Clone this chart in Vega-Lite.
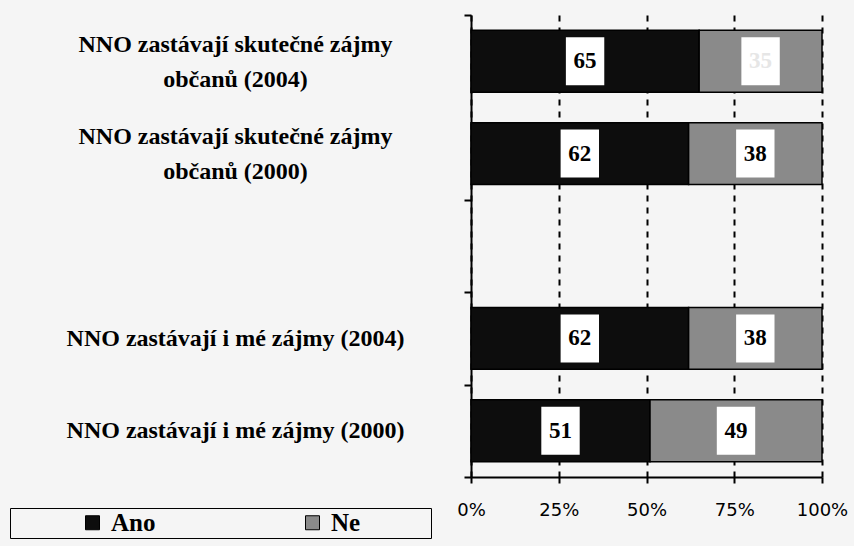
{
  "$schema": "https://vega.github.io/schema/vega-lite/v6.json",
  "width": 351,
  "height": 462,
  "autosize": {"type": "none"},
  "padding": {"left": 471, "top": 15, "right": 32, "bottom": 69},
  "background": "#f5f5f5",
  "config": {"view": {"stroke": null}},
  "data": {
    "values": [
      {"category": "NNO zastávají skutečné zájmy občanů (2004)", "answer": "Ano", "value": 65},
      {"category": "NNO zastávají skutečné zájmy občanů (2004)", "answer": "Ne", "value": 35},
      {"category": "NNO zastávají skutečné zájmy občanů (2000)", "answer": "Ano", "value": 62},
      {"category": "NNO zastávají skutečné zájmy občanů (2000)", "answer": "Ne", "value": 38},
      {"category": "NNO zastávají i mé zájmy (2004)", "answer": "Ano", "value": 62},
      {"category": "NNO zastávají i mé zájmy (2004)", "answer": "Ne", "value": 38},
      {"category": "NNO zastávají i mé zájmy (2000)", "answer": "Ano", "value": 51},
      {"category": "NNO zastávají i mé zájmy (2000)", "answer": "Ne", "value": 49}
    ]
  },
  "transform": [
    {"stack": "value", "groupby": ["category"], "sort": [{"field": "answer", "order": "ascending"}], "as": ["x0", "x1"], "offset": "normalize"},
    {"calculate": "(datum.x0 + datum.x1) / 2", "as": "xmid"}
  ],
  "encoding": {
    "y": {
      "field": "category",
      "type": "nominal",
      "title": null,
      "scale": {
        "domain": [
          "NNO zastávají skutečné zájmy občanů (2004)",
          "NNO zastávají skutečné zájmy občanů (2000)",
          " ",
          "NNO zastávají i mé zájmy (2004)",
          "NNO zastávají i mé zájmy (2000)"
        ],
        "paddingInner": 0,
        "paddingOuter": 0
      },
      "axis": {
        "title": null,
        "domainColor": "black",
        "domainWidth": 2,
        "tickColor": "black",
        "tickWidth": 2,
        "tickSize": 7,
        "tickBand": "extent",
        "tickOpacity": {"condition": {"test": "datum.value == 'NNO zastávají skutečné zájmy občanů (2004)'", "value": 0}, "value": 1},
        "labelFont": "Liberation Serif",
        "labelFontWeight": "bold",
        "labelFontSize": 24,
        "labelColor": "black",
        "labelAlign": "center",
        "labelBaseline": "middle",
        "labelPadding": 229,
        "labelLineHeight": 35,
        "labelLimit": 600,
        "labelOffset": {"condition": {"test": "test(/občanů/, datum.value)", "value": -17}, "value": 0},
        "labelExpr": "test(/občanů/, datum.value) ? [slice(datum.value, 0, 28), slice(datum.value, 29)] : datum.value"
      }
    }
  },
  "layer": [
    {
      "mark": {"type": "bar", "height": {"band": 0.67}, "stroke": "black", "strokeWidth": 1.5},
      "encoding": {
        "x": {
          "field": "x0",
          "type": "quantitative",
          "scale": {"domain": [0, 1]},
          "axis": {
            "title": null,
            "values": [0, 0.25, 0.5, 0.75, 1],
            "format": "%",
            "grid": true,
            "gridColor": "black",
            "gridDash": [6, 6],
            "gridWidth": 2,
            "domainColor": "black",
            "domainWidth": 2,
            "tickColor": "black",
            "tickWidth": 2,
            "tickSize": 6,
            "labelFont": "DejaVu Sans",
            "labelFontSize": 18,
            "labelColor": "black",
            "labelPadding": 18,
            "labelFlush": false
          }
        },
        "x2": {"field": "x1"},
        "fill": {
          "field": "answer",
          "type": "nominal",
          "scale": {"domain": ["Ano", "Ne"], "range": ["#0d0d0d", "#8a8a8a"]},
          "legend": {
            "title": null,
            "orient": "none",
            "legendX": -461,
            "legendY": 493,
            "direction": "horizontal",
            "columns": 2,
            "strokeColor": "black",
            "padding": 2,
            "symbolType": "square",
            "symbolSize": 196,
            "symbolStrokeColor": "black",
            "symbolStrokeWidth": 1,
            "symbolOffset": 68,
            "columnPadding": 76,
            "labelFont": "Liberation Serif",
            "labelFontWeight": "bold",
            "labelFontSize": 25,
            "labelColor": "black",
            "labelOffset": 6,
            "labelLimit": 400,
            "labelExpr": "datum.label == 'Ne' ? 'Ne\u00a0\u00a0\u00a0\u00a0\u00a0\u00a0\u00a0\u00a0\u00a0\u00a0\u00a0\u200b' : datum.label"
          }
        }
      }
    },
    {
      "mark": {"type": "point", "shape": "M-0.8,-1H0.8V1H-0.8Z", "filled": true, "fill": "white", "opacity": 1, "size": 2304, "strokeWidth": 0},
      "encoding": {"x": {"field": "xmid", "type": "quantitative"}}
    },
    {
      "mark": {"type": "text", "font": "Liberation Serif", "fontWeight": "bold", "fontSize": 23, "baseline": "middle", "align": "center"},
      "encoding": {
        "x": {"field": "xmid", "type": "quantitative"},
        "text": {"field": "value", "type": "quantitative"},
        "color": {
          "condition": {"test": "datum.answer == 'Ne' && datum.category == 'NNO zastávají skutečné zájmy občanů (2004)'", "value": "#e6e6e6"},
          "value": "black"
        }
      }
    }
  ]
}
